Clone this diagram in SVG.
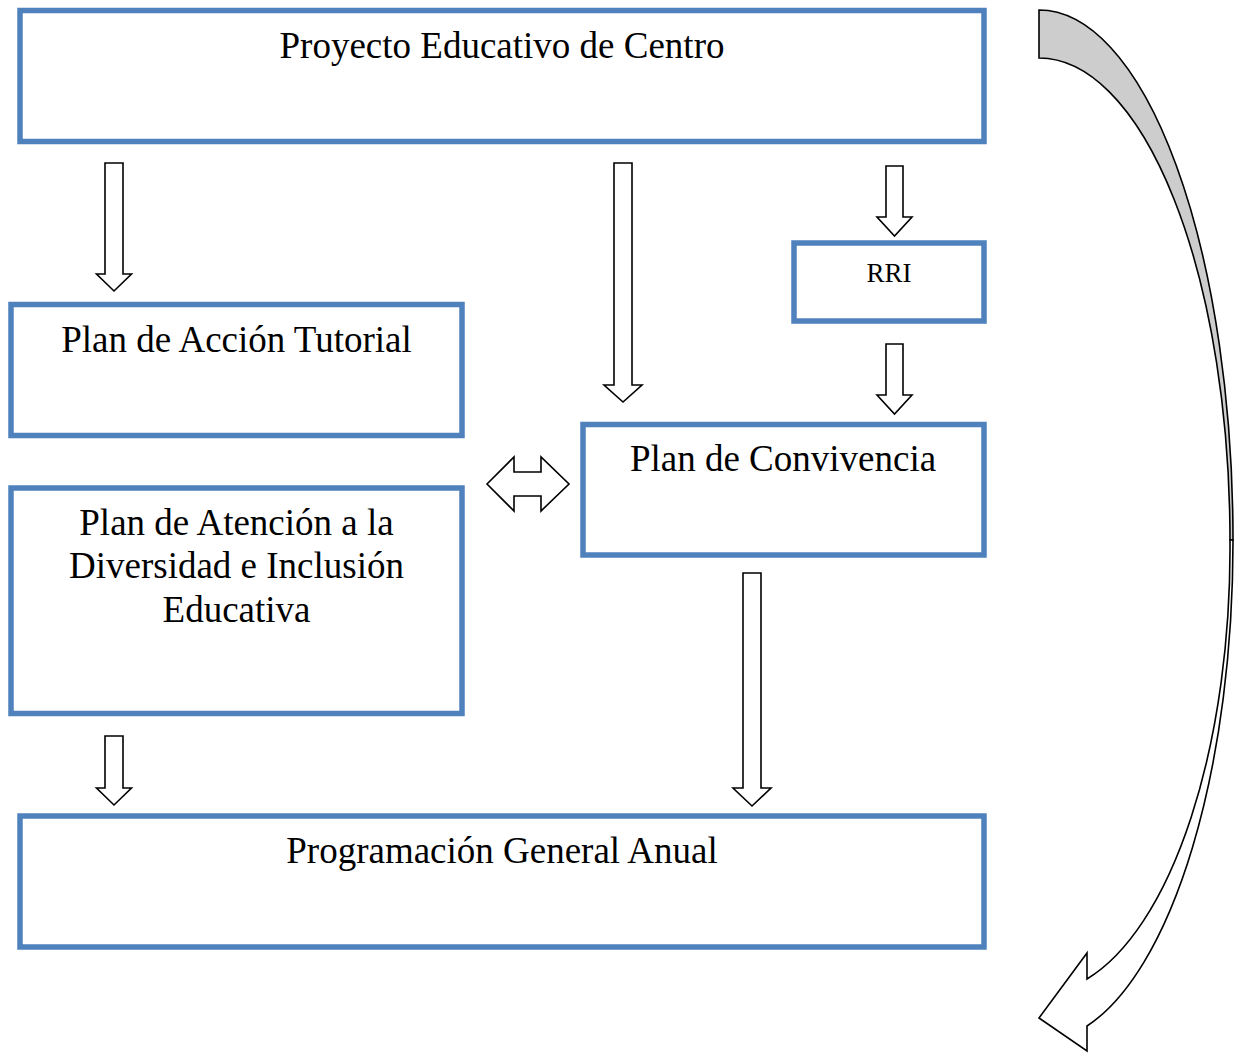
<svg xmlns="http://www.w3.org/2000/svg" width="1237" height="1055" viewBox="0 0 1237 1055">
<style>
.box{fill:#fff;stroke:#4F81BD;stroke-width:5.5}
.t{font-family:"Liberation Serif","Times New Roman",serif;font-size:37px;fill:#000;text-anchor:middle}
.arr{fill:#fff;stroke:#000;stroke-width:1.6;stroke-linejoin:miter}
</style>
<rect width="1237" height="1055" fill="#fff"/>
<g id="pec"><rect class="box" x="20" y="10.5" width="964" height="131"/><text class="t" x="502" y="58">Proyecto Educativo de Centro</text></g>
<g id="pat"><rect class="box" x="11" y="304.5" width="451" height="131"/><text class="t" x="236.5" y="352">Plan de Acción Tutorial</text></g>
<g id="pad"><rect class="box" x="11" y="488" width="451" height="225.5"/><text class="t" x="236.5" y="535">Plan de Atención a la</text><text class="t" x="236.5" y="578">Diversidad e Inclusión</text><text class="t" x="236.5" y="622">Educativa</text></g>
<g id="rri"><rect class="box" x="794" y="243" width="190" height="78"/><text class="t" x="889" y="282" style="font-size:27px">RRI</text></g>
<g id="pc"><rect class="box" x="583" y="424.5" width="401" height="130.5"/><text class="t" x="783" y="471">Plan de Convivencia</text></g>
<g id="pga"><rect class="box" x="20" y="816" width="964" height="131"/><text class="t" x="502" y="863">Programación General Anual</text></g>
<g id="connectors">
<path class="arr" d="M105,163 H123 V274 H131.5 L114,291 L96.5,274 H105 Z"/>
<path class="arr" d="M614,163 H632 V385 H642 L623,402 L604,385 H614 Z"/>
<path class="arr" d="M886,166 H903 V217 H912 L894.5,236 L877,217 H886 Z"/>
<path class="arr" d="M886,344 H903 V395 H912 L894.5,414 L877,395 H886 Z"/>
<path class="arr" d="M105,736 H123 V788 H131.5 L114,805 L96.5,788 H105 Z"/>
<path class="arr" d="M743,573 H761 V788 H771 L752,806 L733,788 H743 Z"/>
<path class="arr" d="M487,484 L514,457 V472 H541 V457 L569,484 L541,511 V496 H514 V511 Z"/>
<path d="M1039,10 A194,530 0 0 1 1233,540 L1230,540 A191,482 0 0 0 1039,58 Z" fill="#CDCDCD" stroke="#000" stroke-width="1.6"/>
<path class="arr" d="M1233,540 A194,500 0 0 1 1087,1026 L1087,1051 L1039,1018 L1087,953 L1087,979 A191,445 0 0 0 1230,540 Z"/>
</g>
</svg>
